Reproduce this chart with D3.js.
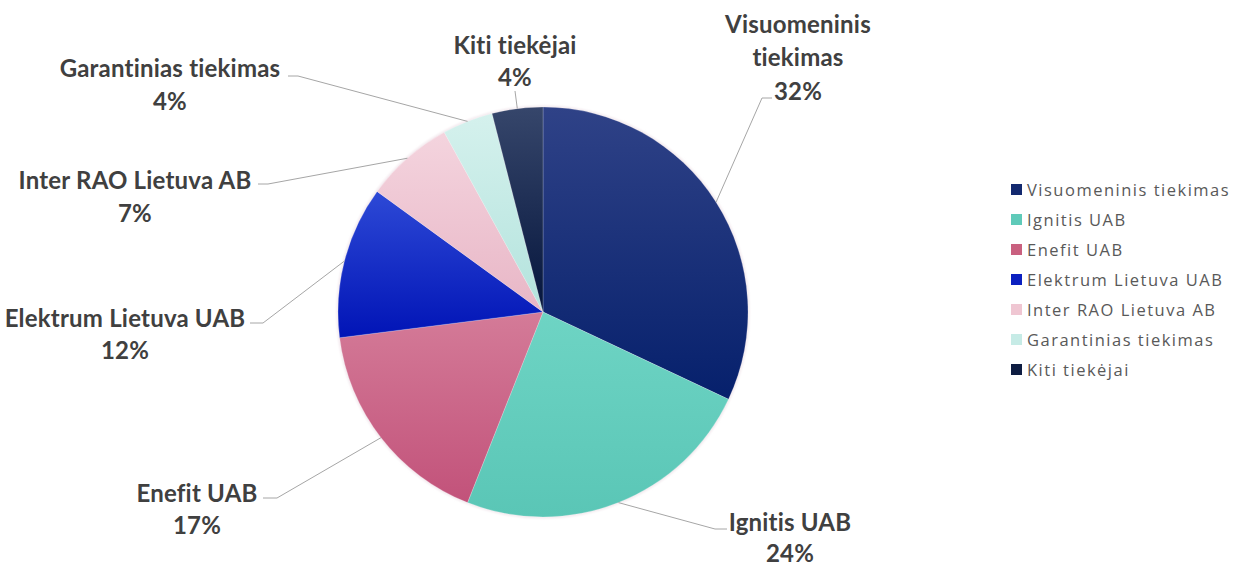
<!DOCTYPE html>
<html>
<head>
<meta charset="utf-8">
<script src="https://cdn.jsdelivr.net/npm/d3@7"></script>
<style>
  html, body { margin: 0; padding: 0; background: #ffffff; }
  svg { display: block; }
</style>
</head>
<body>
<svg id="chart" width="1250" height="578"></svg>
<script>
// ---- data ----
const categories = ["Visuomeninis tiekimas", "Ignitis UAB", "Enefit UAB", "Elektrum Lietuva UAB",
                    "Inter RAO Lietuva AB", "Garantinias tiekimas", "Kiti tiekėjai"];
const shares = [32, 24, 17, 12, 7, 4, 4];
const pctLabels = ["32%", "24%", "17%", "12%", "7%", "4%", "4%"];
const labelLines = [["Visuomeninis", "tiekimas"], ["Ignitis UAB"], ["Enefit UAB"], ["Elektrum Lietuva UAB"],
                    ["Inter RAO Lietuva AB"], ["Garantinias tiekimas"], ["Kiti tiekėjai"]];

// ---- styles ----
const gradTop    = ["#2f4287", "#6ed4c4", "#d47b98", "#2d49d6", "#f4d4de", "#d5f1ed", "#36466b"];
const gradBottom = ["#06206c", "#5ac6b6", "#c2527a", "#0114b6", "#e8b6c6", "#b3e3dd", "#05153c"];
const legendColors = ["#13296f", "#5fcab9", "#c9607f", "#0b20c0", "#efc6d2", "#c6ebe6", "#0e1d42"];

// label layout (text centre x, first line centre y, leader bend points)
const labelLayout = [
  { x: 798, y: 24, step: 33.5, pts: [[762, 98], [772, 98]] },
  { x: 790, y: 522, step: 31.5, pts: [[715, 529], [727, 529]] },
  { x: 197, y: 493, step: 32, pts: [[277, 498], [263, 498]] },
  { x: 125, y: 318, step: 32, pts: [[263, 323], [250, 323]] },
  { x: 135, y: 180, step: 33, pts: [[268, 184], [258, 184]] },
  { x: 170, y: 68, step: 33, pts: [[298, 76], [288, 76]] },
  { x: 515, y: 45, step: 32, pts: [[515, 91]] }
];

const svg = d3.select("#chart");
const cx = 543, cy = 312, R = 205;

const defs = svg.append("defs");
shares.forEach((d, i) => {
  const g = defs.append("linearGradient").attr("id", "g" + i)
    .attr("x1", 0).attr("y1", 0).attr("x2", 0).attr("y2", 1);
  g.append("stop").attr("offset", "0%").attr("stop-color", gradTop[i]);
  g.append("stop").attr("offset", "100%").attr("stop-color", gradBottom[i]);
});
const glow = defs.append("filter").attr("id", "glow").attr("x", "-10%").attr("y", "-10%")
  .attr("width", "120%").attr("height", "120%");
glow.append("feGaussianBlur").attr("stdDeviation", 0.8);

const pie = d3.pie().sort(null).value(d => d)(shares);
const arc = d3.arc().innerRadius(0).outerRadius(R);
const edgeArc = d3.arc().innerRadius(R).outerRadius(R);

const gPie = svg.append("g").attr("transform", `translate(${cx},${cy})`);
// soft halo
gPie.append("circle").attr("r", R + 1.5).attr("fill", "#f3e9ee").attr("filter", "url(#glow)");
gPie.selectAll("path.slice").data(pie).join("path")
  .attr("class", "slice")
  .attr("d", arc)
  .attr("fill", (d, i) => `url(#g${i})`)
  .attr("stroke", "#ffffff").attr("stroke-opacity", 0.35).attr("stroke-width", 0.6);

// leader lines
const line = d3.line();
pie.forEach((d, i) => {
  const c = edgeArc.centroid(d);
  const start = [cx + c[0], cy + c[1]];
  const pts = [start].concat(labelLayout[i].pts);
  svg.append("path").attr("d", line(pts))
    .attr("fill", "none").attr("stroke", "#a6a6a6").attr("stroke-width", 1);
});

// labels
pie.forEach((d, i) => {
  const L = labelLayout[i];
  const lines = labelLines[i].concat([pctLabels[i]]);
  const t = svg.append("text")
    .attr("text-anchor", "middle")
    .attr("font-family", "Lato, 'Open Sans', sans-serif")
    .attr("font-weight", "bold")
    .attr("font-size", 24)
    .attr("letter-spacing", 0.2)
    .attr("fill", "#404040");
  lines.forEach((s, k) => {
    t.append("tspan").attr("x", L.x).attr("y", L.y + k * L.step + 8.5).text(s);
  });
});

// legend
const legend = svg.append("g").attr("transform", "translate(1011,190)");
const rows = legend.selectAll("g").data(categories).join("g")
  .attr("transform", (d, i) => `translate(0,${i * 30})`);
rows.append("rect").attr("x", 0).attr("y", -6).attr("width", 11).attr("height", 11)
  .attr("fill", (d, i) => legendColors[i]);
rows.append("text").attr("x", 16).attr("y", 6)
  .attr("font-family", "'Open Sans', Lato, sans-serif")
  .attr("font-size", 16.5)
  .attr("letter-spacing", 1.5)
  .attr("fill", "#595959")
  .text(d => d);
</script>
</body>
</html>
